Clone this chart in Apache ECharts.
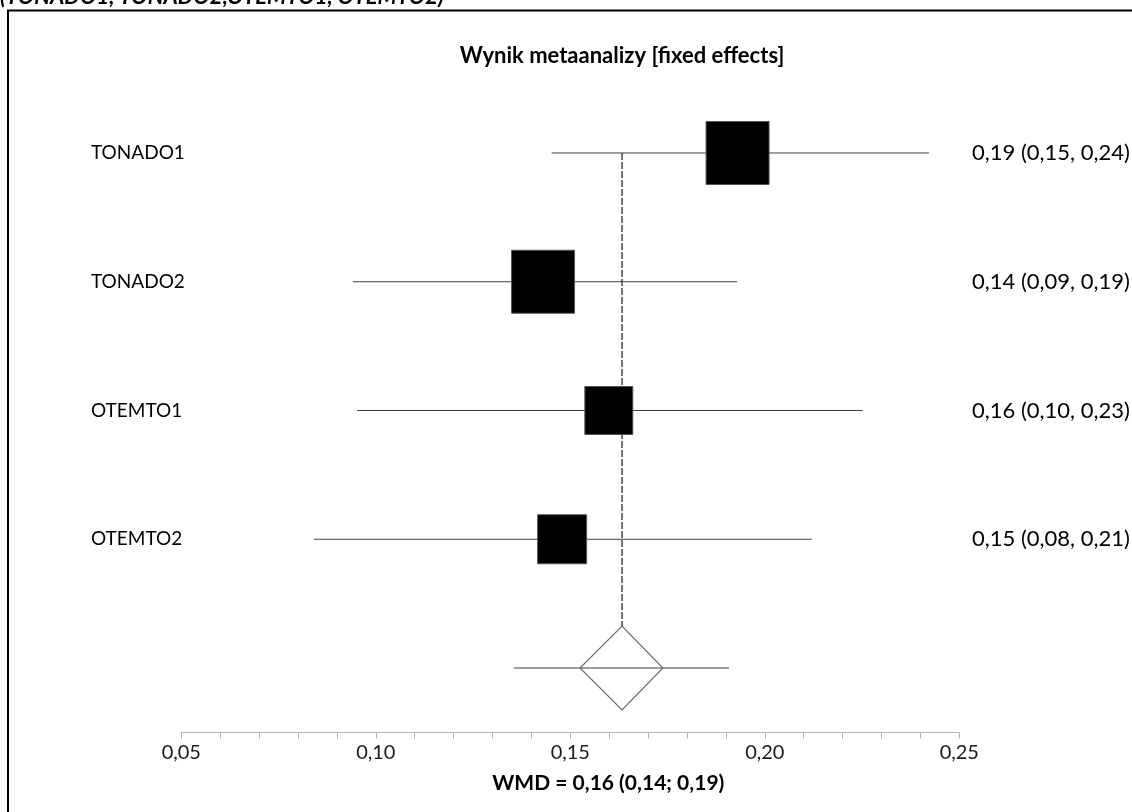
<!DOCTYPE html>
<html>
<head>
<meta charset="utf-8">
<title>Wynik metaanalizy</title>
<script src="https://cdn.jsdelivr.net/npm/echarts@6/dist/echarts.min.js"></script>
<style>
  html, body { margin: 0; padding: 0; background: #ffffff; }
  #chart { width: 1132px; height: 812px; }
</style>
</head>
<body>
<div id="chart"></div>
<script>
// Studies in the fixed-effects meta-analysis
const studies = ['TONADO1', 'TONADO2', 'OTEMTO1', 'OTEMTO2'];
const estimates = [0.193, 0.143, 0.1599, 0.1479];
const ciLower = [0.1452, 0.0941, 0.0952, 0.0841];
const ciUpper = [0.2422, 0.1929, 0.2252, 0.2121];
const weights = [31.4, 31.4, 18.2, 19.0];

// Pooled result (WMD)
const pooled = 0.1633;
const pooledLower = 0.1355;
const pooledUpper = 0.1908;
const diamondLower = 0.1525;
const diamondUpper = 0.1738;

// Axis ticks
const xTicks = [0.05, 0.10, 0.15, 0.20, 0.25];

const fmt = v => v.toFixed(2).replace('.', ',');
const FONT = 'Lato';

const chart = echarts.init(document.getElementById('chart'));
const pooledRow = studies.length;
const diamondHalf = 0.325;

const ciData = studies.map((s, i) => [ciLower[i], ciUpper[i], i]);
ciData.push([pooledLower, pooledUpper, pooledRow]);

chart.setOption({
  animation: false,
  backgroundColor: '#ffffff',
  grid: { left: 181.3, right: 172.7, top: 88.6, bottom: 79.6, containLabel: false },
  xAxis: {
    type: 'value',
    min: xTicks[0],
    max: xTicks[xTicks.length - 1],
    interval: 0.05,
    axisLine: { show: true, onZero: false, lineStyle: { color: '#b4b4b4', width: 1 } },
    axisTick: { show: true, inside: false, length: 6, lineStyle: { color: '#b4b4b4' } },
    minorTick: { show: true, splitNumber: 5, length: 6, lineStyle: { color: '#b4b4b4' } },
    splitLine: { show: false },
    axisLabel: {
      color: '#1a1a1a', fontFamily: FONT, fontSize: 20, margin: 10,
      formatter: v => fmt(v)
    },
    name: 'WMD = ' + fmt(pooled) + ' (' + fmt(pooledLower) + '; ' + fmt(pooledUpper) + ')',
    nameLocation: 'middle',
    nameGap: 40,
    nameTextStyle: { color: '#000', fontFamily: FONT, fontSize: 21, fontWeight: 'bold', padding: [0, 0, 0, 76] }
  },
  yAxis: {
    type: 'value', inverse: true, min: -0.5, max: 4.5, show: false
  },
  title: {
    text: 'Wynik metaanalizy [fixed effects]',
    left: 617, top: 40, textAlign: 'center',
    textStyle: { color: '#000', fontFamily: FONT, fontSize: 22, fontWeight: 'bold' }
  },
  graphic: [
    {
      type: 'rect', silent: true,
      shape: { x: 8, y: 10.5, width: 1140, height: 820 },
      style: { fill: null, stroke: '#000', lineWidth: 2 }
    },
    {
      type: 'text', silent: true, x: 0, y: -3,
      style: {
        text: '(TONADO1, TONADO2,OTEMTO1, OTEMTO2)',
        font: 'italic bold 22px ' + FONT, fill: '#000', verticalAlign: 'middle'
      }
    }
  ],
  series: [
    {
      // reference line at the pooled estimate, down to the diamond
      type: 'custom',
      data: [[pooled, 0, pooledRow - diamondHalf]],
      renderItem: (params, api) => {
        const a = api.coord([api.value(0), api.value(1)]);
        const b = api.coord([api.value(0), api.value(2)]);
        return {
          type: 'line',
          shape: { x1: a[0], y1: a[1], x2: b[0], y2: b[1] },
          style: { stroke: '#2a2a2a', lineWidth: 1.3, lineDash: [7, 2] }
        };
      },
      z: 1
    },
    {
      // confidence intervals
      type: 'custom',
      data: ciData,
      renderItem: (params, api) => {
        const a = api.coord([api.value(0), api.value(2)]);
        const b = api.coord([api.value(1), api.value(2)]);
        return {
          type: 'line',
          shape: { x1: a[0], y1: a[1], x2: b[0], y2: b[1] },
          style: { stroke: '#404040', lineWidth: 1 }
        };
      },
      z: 2
    },
    {
      // study estimates, square area proportional to weight
      type: 'scatter',
      symbol: 'rect',
      data: studies.map((s, i) => [estimates[i], i]),
      symbolSize: (val, p) => 11.24 * Math.sqrt(weights[p.dataIndex]),
      itemStyle: { color: '#000', borderColor: '#555', borderWidth: 1, opacity: 1 },
      z: 3
    },
    {
      // pooled diamond
      type: 'custom',
      data: [[pooled, diamondLower, diamondUpper, pooledRow]],
      renderItem: (params, api) => {
        const c = api.value(0), lo = api.value(1), hi = api.value(2), r = api.value(3);
        const pts = [
          api.coord([c, r - diamondHalf]),
          api.coord([hi, r]),
          api.coord([c, r + diamondHalf]),
          api.coord([lo, r])
        ];
        return {
          type: 'polygon',
          shape: { points: pts },
          style: { fill: 'rgba(255,255,255,0)', stroke: '#6a6a6a', lineWidth: 1.2 }
        };
      },
      z: 4
    },
    {
      // study names and estimate labels
      type: 'custom',
      data: studies.map((s, i) => [estimates[i], ciLower[i], ciUpper[i], i]),
      renderItem: (params, api) => {
        const i = params.dataIndex;
        const y = api.coord([0.1, api.value(3)])[1];
        const txt = fmt(api.value(0)) + ' (' + fmt(api.value(1)) + ', ' + fmt(api.value(2)) + ')';
        return {
          type: 'group',
          children: [
            { type: 'text', x: 91, y: y,
              style: { text: studies[i], font: '19px ' + FONT, fill: '#000', verticalAlign: 'middle', align: 'left' } },
            { type: 'text', x: 972, y: y,
              style: { text: txt, font: '22px ' + FONT, fill: '#000', verticalAlign: 'middle', align: 'left' } }
          ]
        };
      },
      z: 5
    }
  ]
});
</script>
</body>
</html>
